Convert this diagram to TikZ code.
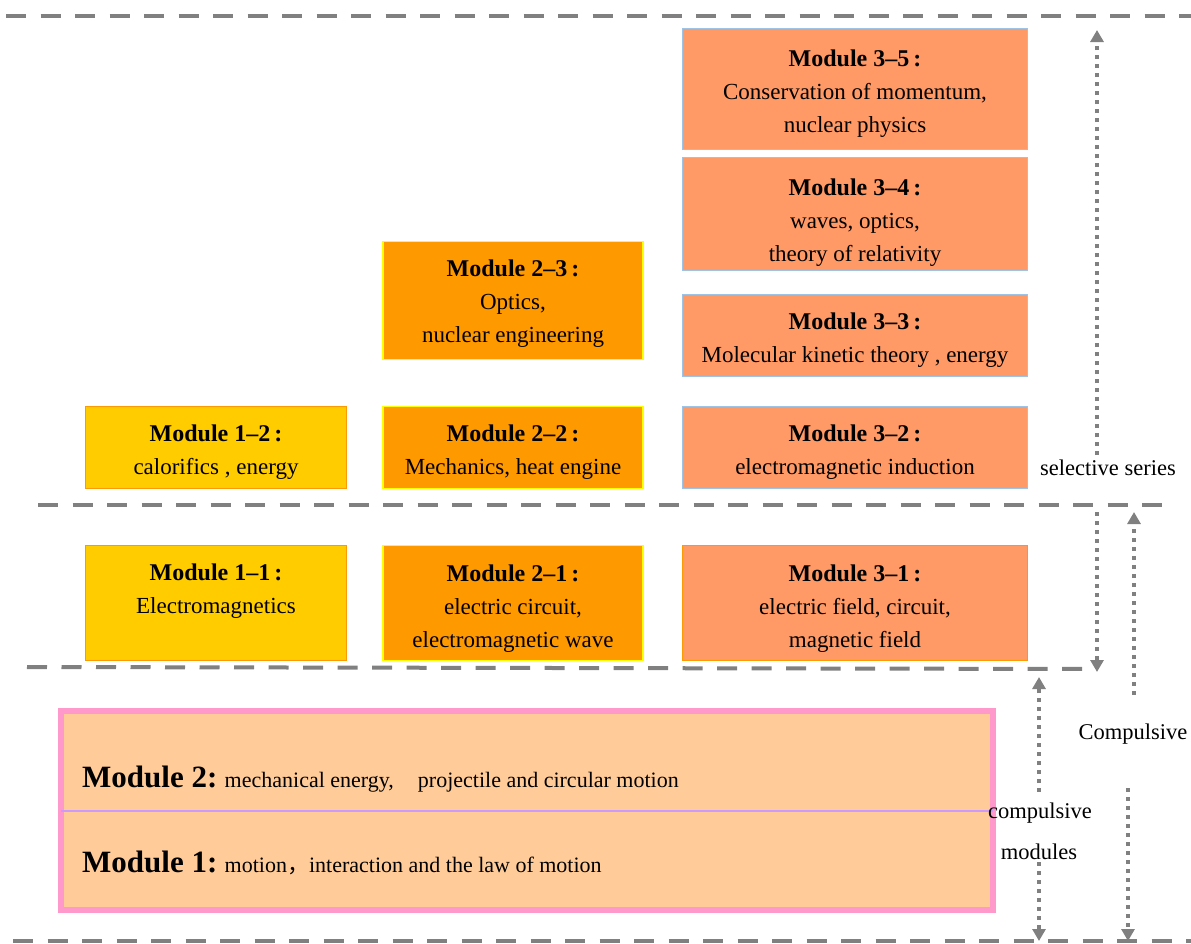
\documentclass[tikz,border=0pt]{standalone}
\usepackage{fontspec}
\setmainfont{Liberation Serif}
\newfontfamily\cjkfont{Noto Sans CJK SC}
\usetikzlibrary{arrows.meta}
\definecolor{cSalmon}{HTML}{FF9966}
\definecolor{cLBlue}{HTML}{9DC3E6}
\definecolor{cOrange}{HTML}{FF9900}
\definecolor{cYellow}{HTML}{FFFF00}
\definecolor{cGold}{HTML}{FFCC00}
\definecolor{cPeach}{HTML}{FFCC99}
\definecolor{cPink}{HTML}{FF99CC}
\definecolor{cLav}{HTML}{CC99FF}
\definecolor{cGray}{HTML}{808080}
\newcommand\mhd[1]{{\fontsize{24}{33}\selectfont\bfseries Module #1\,:}}
\begin{document}
\begin{tikzpicture}[x=1pt,y=-1pt,
  mbox/.style={line width=1.5pt, inner sep=0pt},
  btxt/.style={inner sep=0pt, align=center, font=\fontsize{23}{33}\selectfont},
  cthree/.style={mbox, fill=cSalmon, draw=cLBlue, minimum width=345pt},
  ctwo/.style={mbox, fill=cOrange, draw=cYellow, minimum width=260pt},
  cone/.style={mbox, fill=cGold, draw=cOrange, minimum width=261pt},
  gline/.style={draw=cGray, line width=4pt, dash pattern=on 20pt off 14.5pt},
  darrow/.style={draw=cGray, line width=4pt, dash pattern=on 4pt off 5pt,
    -{Triangle[length=12pt,width=13pt]}},
  lbl/.style={inner sep=0pt, font=\fontsize{22.5}{33}\selectfont}
]
\useasboundingbox (0,0) rectangle (1191,943);

% separator lines
\coordinate (l1a) at (6,16);    \coordinate (l1b) at (1191,16);
\coordinate (l2a) at (38,505);  \coordinate (l2b) at (1172,505);
\coordinate (l3a) at (27,667);  \coordinate (l3b) at (1090,669);
\coordinate (l4a) at (13,941);  \coordinate (l4b) at (1191,941);
\draw[gline] (l1a) -- (l1b);
\draw[gline] (l2a) -- (l2b);
\draw[gline] (l3a) -- (l3b);
\draw[gline] (l4a) -- (l4b);

% series 3
\node[cthree, minimum height=121pt] (m35) at (855,89) {};
\node[btxt] (m35t) at ([yshift=-5pt]m35.center)
  {\mhd{3--5}\\Conservation of momentum,\\nuclear physics};
\node[cthree, minimum height=113pt] (m34) at (855,214) {};
\node[btxt] (m34t) at ([yshift=-9pt]m34.center)
  {\mhd{3--4}\\waves, optics,\\theory of relativity};
\node[cthree, minimum height=82pt] (m33) at (855,335.5) {};
\node[btxt] (m33t) at ([yshift=-4.5pt]m33.center)
  {\mhd{3--3}\\Molecular kinetic theory , energy};
\node[cthree, minimum height=82pt] (m32) at (855,447.5) {};
\node[btxt] (m32t) at ([yshift=-5pt]m32.center)
  {\mhd{3--2}\\electromagnetic induction};
\node[cthree, draw=cOrange, minimum height=115pt] (m31) at (855,603) {};
\node[btxt] (m31t) at ([yshift=-5.5pt]m31.center)
  {\mhd{3--1}\\electric field, circuit,\\magnetic field};

% series 2
\node[ctwo, minimum height=118pt] (m23) at (513,300.5) {};
\node[btxt] (m23t) at ([yshift=-3.5pt]m23.center)
  {\mhd{2--3}\\Optics,\\nuclear engineering};
\node[ctwo, minimum height=82pt] (m22) at (513,447.5) {};
\node[btxt] (m22t) at ([yshift=-5pt]m22.center)
  {\mhd{2--2}\\Mechanics, heat engine};
\node[ctwo, minimum height=115pt] (m21) at (513,603) {};
\node[btxt] (m21t) at ([yshift=-5.5pt]m21.center)
  {\mhd{2--1}\\electric circuit,\\electromagnetic wave};

% series 1
\node[cone, minimum height=82pt] (m12) at (216,447.5) {};
\node[btxt] (m12t) at ([yshift=-5pt]m12.center)
  {\mhd{1--2}\\calorifics , energy};
\node[cone, minimum height=115pt] (m11) at (216,603) {};
\node[btxt] (m11t) at ([yshift=12pt]m11.center)
  {\mhd{1--1}\\Electromagnetics};

% compulsory modules
\node[draw=cPink, line width=6pt, fill=cPeach, inner sep=0pt,
  minimum width=932pt, minimum height=199pt] (bot) at (527,810.5) {};
\draw[cLav, line width=2pt] ([xshift=3pt]bot.west) -- ([xshift=-3pt]bot.east);
\node[anchor=base west, inner sep=0pt, font=\fontsize{22}{26}\selectfont] (t2) at (82,787)
  {{\fontsize{31}{36}\selectfont\bfseries Module 2:} mechanical energy,\hspace{24pt}projectile and circular motion};
\node[anchor=base west, inner sep=0pt, font=\fontsize{22}{26}\selectfont] (t1) at (82,872)
  {{\fontsize{31}{36}\selectfont\bfseries Module 1:} motion{\cjkfont ，}interaction and the law of motion};

% side labels
\node[lbl] (sel) at (1108,468) {selective series};
\node[lbl] (comp) at (1133,734) {Compulsive};
\node[lbl] (cm1) at (1040,813) {compulsive};
\node[lbl] (cm2) at (1039,852) {modules};

% arrows
\coordinate (aAs) at (1097,455); \coordinate (aAe) at (1097,30);
\coordinate (aBs) at (1097,512); \coordinate (aBe) at (1097,672);
\coordinate (aCs) at (1134,695); \coordinate (aCe) at (1134,512);
\coordinate (aDs) at (1128,788); \coordinate (aDe) at (1128,941);
\coordinate (aEs) at (1039,792); \coordinate (aEe) at (1039,677);
\coordinate (aFs) at (1039,862); \coordinate (aFe) at (1039,941);
\draw[darrow] (aAs) -- (aAe);
\draw[darrow] (aBs) -- (aBe);
\draw[darrow] (aCs) -- (aCe);
\draw[darrow] (aDs) -- (aDe);
\draw[darrow] (aEs) -- (aEe);
\draw[darrow] (aFs) -- (aFe);
\end{tikzpicture}
\end{document}
